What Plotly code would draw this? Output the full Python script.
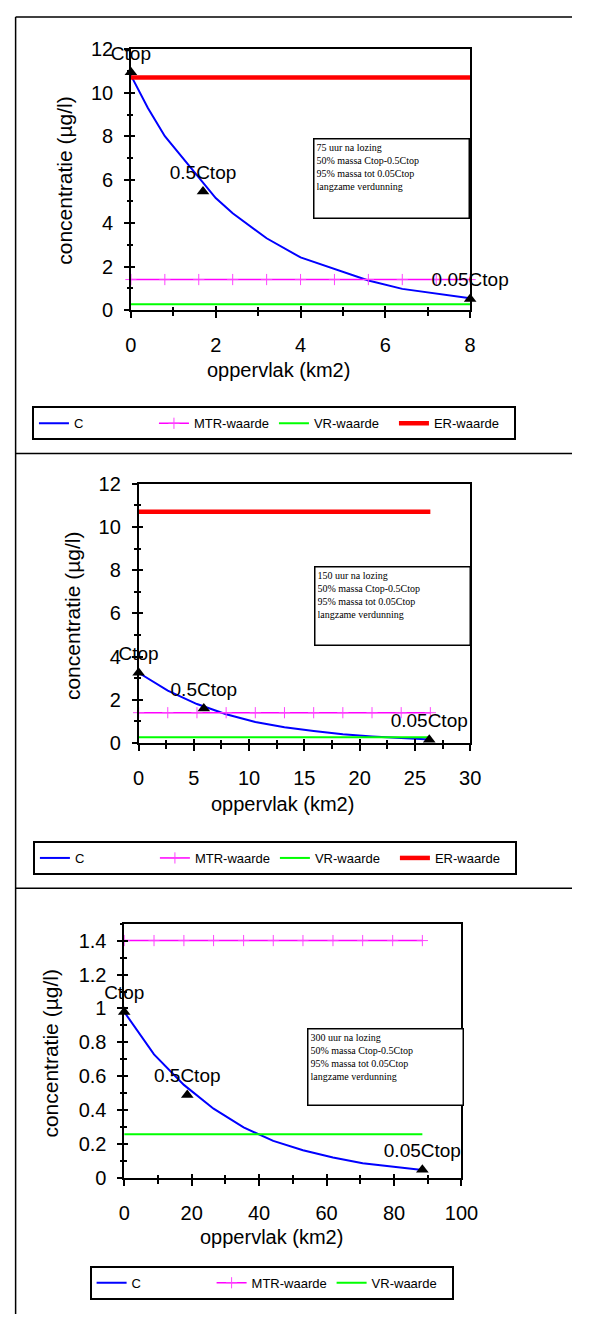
import plotly.graph_objects as go

W, H = 589, 1325

# ---- data -------------------------------------------------------------
# 75 uur na lozing
area_75 = [0, 0.4, 0.8, 1.2, 1.6, 2.0, 2.4, 3.2, 4.0, 4.8, 5.6, 6.4, 7.2, 8.0]
conc_75 = [10.8, 9.3, 8.0, 7.05, 6.1, 5.15, 4.45, 3.3, 2.42, 1.88, 1.36, 0.97, 0.75, 0.54]
ref_x_75 = [0, 0.8, 1.6, 2.4, 3.2, 4.0, 4.8, 5.6, 6.4, 7.2, 8.0]
pts_x_75 = [0, 1.7, 8.0]
pts_y_75 = [10.95, 5.45, 0.5]

# 150 uur na lozing
area_150 = [0, 2.64, 5.28, 7.92, 10.56, 13.2, 15.84, 18.48, 21.12, 23.76, 26.4]
conc_150 = [3.25, 2.42, 1.8, 1.33, 0.97, 0.73, 0.55, 0.4, 0.3, 0.22, 0.16]
ref_x_150 = area_150
pts_x_150 = [0, 5.9, 26.3]
pts_y_150 = [3.25, 1.6, 0.15]

# 300 uur na lozing
area_300 = [0, 8.84, 17.7, 26.5, 35.4, 44.2, 53.0, 61.9, 70.7, 79.6, 88.4]
conc_300 = [0.98, 0.73, 0.55, 0.41, 0.3, 0.22, 0.165, 0.122, 0.088, 0.067, 0.049]
ref_x_300 = area_300
pts_x_300 = [0, 18.7, 88.4]
pts_y_300 = [0.98, 0.49, 0.05]

pts_labels = ["Ctop", "0.5Ctop", "0.05Ctop"]

MTR = 1.4   # MTR-waarde
VR = 0.26   # VR-waarde
ER = 10.7   # ER-waarde

info_75 = ["75 uur na lozing", "50% massa Ctop-0.5Ctop", "95% massa tot 0.05Ctop", "langzame verdunning"]
info_150 = ["150 uur na lozing", "50% massa Ctop-0.5Ctop", "95% massa tot 0.05Ctop", "langzame verdunning"]
info_300 = ["300 uur na lozing", "50% massa Ctop-0.5Ctop", "95% massa tot 0.05Ctop", "langzame verdunning"]

# ---- helpers ----------------------------------------------------------
def fx(p):
    return p / W


def fy(p):
    return 1 - p / H


SANS = "Liberation Sans, Arial, sans-serif"
SERIF = "Liberation Serif, Times New Roman, serif"

fig = go.Figure()

panels = [
    dict(i=1, area=area_75, conc=conc_75, refx=ref_x_75, px=pts_x_75, py=pts_y_75,
         er=True, xr=[0, 8], yr=[0, 12], xd=2, xm=1, yd=2, ym=1,
         box=(130, 483, 39, 304), info=info_75, ibox=(319, 129, 156, 80),
         leg=(27, 402), xt=(284, 365), yt=(61, 172)),
    dict(i=2, area=area_150, conc=conc_150, refx=ref_x_150, px=pts_x_150, py=pts_y_150,
         er=True, xr=[0, 30], yr=[0, 12], xd=5, xm=2.5, yd=2, ym=1,
         box=(138, 483, 480.7, 744.3), info=info_150, ibox=(321, 564, 156, 79),
         leg=(28, 844), xt=(288, 806), yt=(70, 615)),
    dict(i=3, area=area_300, conc=conc_300, refx=ref_x_300, px=pts_x_300, py=pts_y_300,
         er=False, xr=[0, 100], yr=[0, 1.5], xd=20, xm=10, yd=0.2, ym=0.1,
         box=(123, 474, 928, 1187), info=info_300, ibox=(313, 1034, 156, 77),
         leg=(87, 1276), xt=(276, 1247), yt=(46, 1060)),
]

annotations = []
layout_axes = {}

for p in panels:
    i = p["i"]
    xa = "x" if i == 1 else f"x{i}"
    ya = "y" if i == 1 else f"y{i}"
    leg = "legend" if i == 1 else f"legend{i}"
    n = len(p["refx"])

    fig.add_trace(go.Scatter(
        x=p["area"], y=p["conc"], mode="lines", name="C",
        line=dict(color="#0000ff", width=2), xaxis=xa, yaxis=ya, legend=leg))
    fig.add_trace(go.Scatter(
        x=p["refx"], y=[MTR] * n, mode="lines+markers", name="MTR-waarde",
        line=dict(color="#ff00ff", width=1.5),
        marker=dict(symbol="cross-thin", size=8, color="#ff00ff",
                    line=dict(color="#ff44ff", width=1)),
        xaxis=xa, yaxis=ya, legend=leg, cliponaxis=False))
    fig.add_trace(go.Scatter(
        x=p["refx"], y=[VR] * n, mode="lines", name="VR-waarde",
        line=dict(color="#00ff00", width=2), xaxis=xa, yaxis=ya, legend=leg))
    if p["er"]:
        fig.add_trace(go.Scatter(
            x=p["refx"], y=[ER] * n, mode="lines", name="ER-waarde",
            line=dict(color="#ff0000", width=4.5), xaxis=xa, yaxis=ya, legend=leg))
    fig.add_trace(go.Scatter(
        x=p["px"], y=p["py"], mode="markers+text", text=pts_labels,
        textposition="top center", textfont=dict(family=SANS, size=19, color="black"),
        marker=dict(symbol="triangle-up", size=11, color="black"),
        xaxis=xa, yaxis=ya, showlegend=False, cliponaxis=False))

    # empty trace so the overlay axes (inner tick halves) are drawn
    fig.add_trace(go.Scatter(x=[], y=[], xaxis=f"x{i + 3}", yaxis=f"y{i + 3}",
                             showlegend=False, hoverinfo="skip"))

    l, r, t, b = p["box"]
    common = dict(showgrid=False, zeroline=False, tickcolor="black", tickwidth=1.5,
                  tickfont=dict(family=SANS, size=20, color="black"))
    layout_axes["xaxis" if i == 1 else f"xaxis{i}"] = dict(
        domain=[fx(l), fx(r)], range=p["xr"], anchor=ya, tick0=0, dtick=p["xd"],
        showline=True, linecolor="black", linewidth=1.5, mirror=True,
        ticks="outside", ticklen=6, ticklabelstandoff=10,
        minor=dict(dtick=p["xm"], tick0=0, ticks="outside", ticklen=4,
                   tickwidth=1.5, tickcolor="black"),
        **common)
    layout_axes["yaxis" if i == 1 else f"yaxis{i}"] = dict(
        domain=[fy(b), fy(t)], range=p["yr"], anchor=xa, tick0=0, dtick=p["yd"],
        showline=True, linecolor="black", linewidth=1.5, mirror=True,
        ticks="outside", ticklen=5, ticklabelstandoff=7,
        minor=dict(dtick=p["ym"], tick0=0, ticks="outside", ticklen=2.5,
                   tickwidth=1.5, tickcolor="black"),
        **common)
    layout_axes[f"xaxis{i + 3}"] = dict(
        overlaying=xa, matches=xa, anchor=ya, side="bottom", showline=False,
        ticks="inside", ticklen=4, tick0=0, dtick=p["xd"], showticklabels=False,
        minor=dict(dtick=p["xm"], tick0=0, ticks="inside", ticklen=3,
                   tickwidth=1.5, tickcolor="black"),
        **common)
    layout_axes[f"yaxis{i + 3}"] = dict(
        overlaying=ya, matches=ya, anchor=xa, side="left", showline=False,
        ticks="inside", ticklen=4, tick0=0, dtick=p["yd"], showticklabels=False,
        minor=dict(dtick=p["ym"], tick0=0, ticks="inside", ticklen=2.5,
                   tickwidth=1.5, tickcolor="black"),
        **common)

    # legend box under each chart
    lx, ly = p["leg"]
    layout_axes[leg] = dict(
        x=fx(lx), y=fy(ly), xanchor="left", yanchor="top", orientation="h",
        entrywidth=75, entrywidthmode="pixels", itemwidth=30,
        bordercolor="black", borderwidth=2, bgcolor="white",
        font=dict(family=SANS, size=13, color="black"))

    # axis titles
    annotations.append(dict(
        text="oppervlak (km2)", xref="paper", yref="paper",
        x=fx(p["xt"][0]), y=fy(p["xt"][1]), xanchor="center", yanchor="middle",
        showarrow=False, font=dict(family=SANS, size=20, color="black")))
    annotations.append(dict(
        text="concentratie (µg/l)", xref="paper", yref="paper", textangle=-90,
        x=fx(p["yt"][0]), y=fy(p["yt"][1]), xanchor="center", yanchor="middle",
        showarrow=False, font=dict(family=SANS, size=21, color="black")))

    # info box
    bx, by, bw, bh = p["ibox"]
    annotations.append(dict(
        text="<br>".join(p["info"]), xref="paper", yref="paper",
        x=fx(bx), y=fy(by), xanchor="left", yanchor="top",
        width=bw - 6, height=bh - 6, align="left", valign="top",
        showarrow=False, bordercolor="black", borderwidth=1.5, borderpad=2,
        bgcolor="white", font=dict(family=SERIF, size=10, color="black")))

# outer frame with separators between the three charts
frame = dict(color="black", width=1.5)
shapes = [
    dict(type="line", xref="paper", yref="paper", x0=fx(10), x1=1, y0=fy(6), y1=fy(6), line=frame),
    dict(type="line", xref="paper", yref="paper", x0=fx(10), x1=fx(10), y0=fy(6), y1=0, line=frame),
    dict(type="line", xref="paper", yref="paper", x0=fx(10), x1=1, y0=fy(450), y1=fy(450), line=frame),
    dict(type="line", xref="paper", yref="paper", x0=fx(10), x1=1, y0=fy(892), y1=fy(892), line=frame),
]

fig.update_layout(
    width=W, height=H, margin=dict(l=0, r=0, t=0, b=0),
    paper_bgcolor="white", plot_bgcolor="white",
    annotations=annotations, shapes=shapes, **layout_axes)

fig.write_html("out.html")
